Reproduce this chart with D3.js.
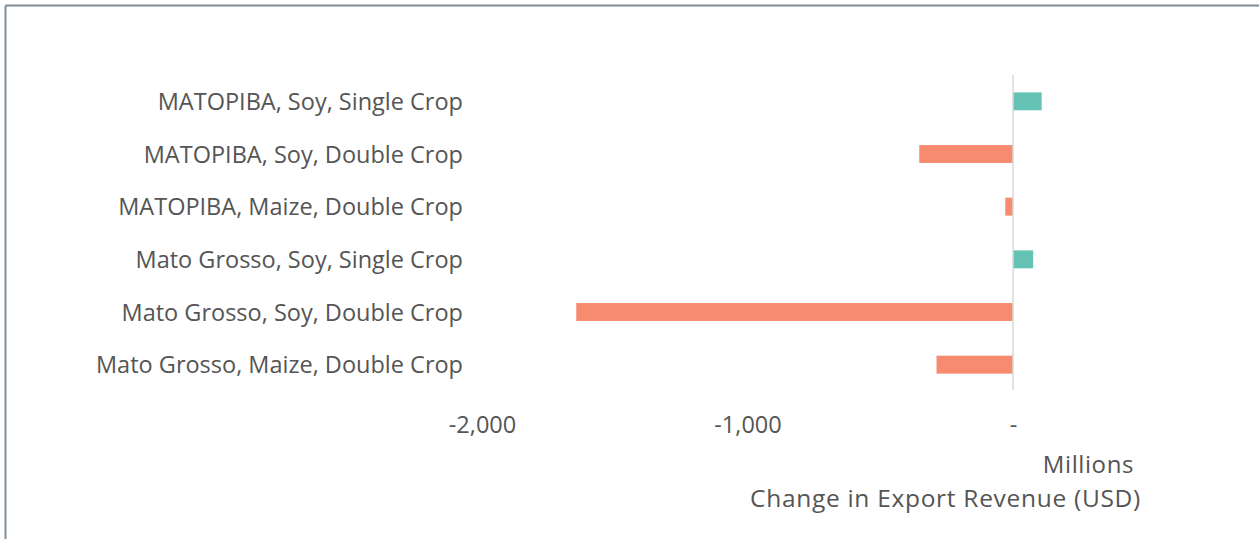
<!DOCTYPE html>
<html>
<head>
<meta charset="utf-8">
<script src="https://cdn.jsdelivr.net/npm/d3@7"></script>
<style>
	body { margin: 0; background: #fff; }
	svg { display: block; font-family: "Open Sans", sans-serif; }
</style>
</head>
<body>
<div></div>
<script>
// categories, top to bottom
var categories = [
	"MATOPIBA, Soy, Single Crop",
	"MATOPIBA, Soy, Double Crop",
	"MATOPIBA, Maize, Double Crop",
	"Mato Grosso, Soy, Single Crop",
	"Mato Grosso, Soy, Double Crop",
	"Mato Grosso, Maize, Double Crop"
];
// change in export revenue, millions USD
var revenueChange = [108, -353, -29, 76, -1645, -288];
var tickValues = [-2000, -1000, 0];
var axisUnit = "Millions";
var axisTitle = "Change in Export Revenue (USD)";

var width = 1259, height = 539;

var svg = d3.select("body").select("div").append("svg")
	.attr("width", width)
	.attr("height", height);

// frame (only top and left edges visible)
svg.append("line")
	.attr("x1", 5.5).attr("y1", 5.5).attr("x2", width).attr("y2", 5.5)
	.attr("stroke", "#7f8f99").attr("stroke-width", 2);
svg.append("line")
	.attr("x1", 5.5).attr("y1", 5.5).attr("x2", 5.5).attr("y2", height)
	.attr("stroke", "#7f8f99").attr("stroke-width", 2);

var x = d3.scaleLinear()
	.domain([-2000, 500])
	.range([482, 1145.75]);

var y = d3.scaleBand()
	.domain(categories)
	.range([75, 391])
	.paddingInner(0.66)
	.paddingOuter(0.33);

var data = categories.map(function(c, i) {
	return { name: c, value: revenueChange[i] };
});

// bars
svg.append("g").selectAll("rect")
	.data(data)
	.enter()
	.append("rect")
	.attr("x", function(d) { return x(Math.min(0, d.value)); })
	.attr("y", function(d) { return y(d.name); })
	.attr("width", function(d) { return Math.abs(x(d.value) - x(0)); })
	.attr("height", y.bandwidth())
	.style("fill", function(d) { return d.value >= 0 ? "#65c3b5" : "#f68b70"; });

// zero line
svg.append("line")
	.attr("x1", x(0)).attr("x2", x(0))
	.attr("y1", 75).attr("y2", 390)
	.attr("stroke", "#d9d9d9").attr("stroke-width", 1.5);

// category labels
svg.append("g").selectAll("text")
	.data(categories)
	.enter()
	.append("text")
	.attr("x", 463)
	.attr("y", function(d) { return y(d) + y.bandwidth() / 2; })
	.attr("dy", "0.37em")
	.attr("text-anchor", "end")
	.style("font-size", "23.5px")
	.style("fill", "#555")
	.text(function(d) { return d; });

// x axis
var xAxis = d3.axisBottom(x)
	.tickValues(tickValues)
	.tickSize(0)
	.tickPadding(0)
	.tickFormat(function(d) { return d === 0 ? "-" : d3.format(",")(d).replace("\u2212", "-"); });

var axisG = svg.append("g")
	.attr("transform", "translate(0,416.3)")
	.call(xAxis);
axisG.select(".domain").remove();
axisG.selectAll("text")
	.style("font-family", "\"Open Sans\", sans-serif")
	.style("font-size", "23.5px")
	.style("fill", "#555");

// axis unit and title
svg.append("text")
	.attr("x", 1134).attr("y", 473)
	.attr("text-anchor", "end")
	.style("font-size", "24px")
	.style("letter-spacing", "0.6px")
	.style("fill", "#555")
	.text(axisUnit);

svg.append("text")
	.attr("x", 1141).attr("y", 507)
	.attr("text-anchor", "end")
	.style("font-size", "24.5px")
	.style("letter-spacing", "0.7px")
	.style("fill", "#555")
	.text(axisTitle);
</script>
</body>
</html>
